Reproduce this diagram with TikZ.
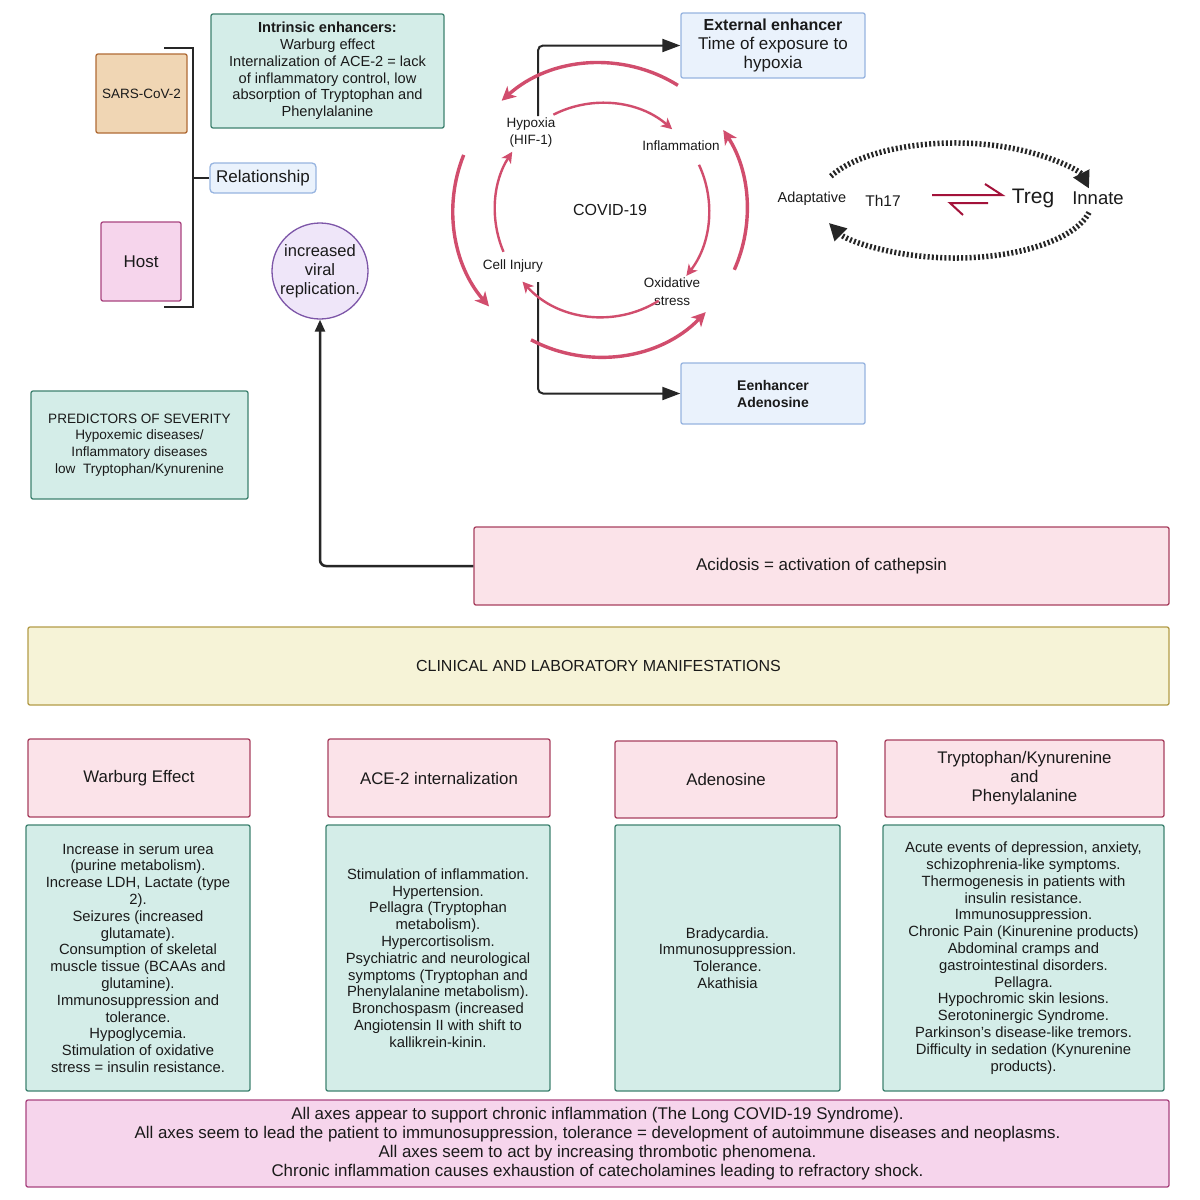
\documentclass[tikz,border=0pt]{standalone}
\usepackage{fontspec}
\setmainfont{Liberation Sans}
\usetikzlibrary{arrows.meta}
\newcommand\fsz[2]{\fontsize{#1}{#2}\selectfont}
\definecolor{tealF}{HTML}{D4EDE8}
\definecolor{tealD}{HTML}{3E8270}
\definecolor{pinkF}{HTML}{FBE3E9}
\definecolor{pinkD}{HTML}{A8405F}
\definecolor{blueF}{HTML}{EAF2FC}
\definecolor{blueD}{HTML}{97B4E0}
\definecolor{yelF}{HTML}{F6F3D7}
\definecolor{yelD}{HTML}{B39C48}
\definecolor{magF}{HTML}{F6D5EC}
\definecolor{magD}{HTML}{A9447F}
\definecolor{tanF}{HTML}{F0D6B4}
\definecolor{tanD}{HTML}{B06B35}
\definecolor{purF}{HTML}{EFE6F9}
\definecolor{purD}{HTML}{7D56A8}
\definecolor{crim}{HTML}{D14D6D}
\definecolor{eqred}{HTML}{A3123A}
\definecolor{txt}{HTML}{1A1A1A}
\tikzset{
  box/.style={draw, line width=1.3pt, rounded corners=2pt, align=center, inner sep=0pt, text=txt},
  tealbox/.style={box, fill=tealF, draw=tealD, font=\fsz{14.8}{16.8}},
  hdrbox/.style={box, fill=pinkF, draw=pinkD, font=\fsz{16.8}{19}},
  bluebox/.style={box, fill=blueF, draw=blueD},
  lbl/.style={align=center, inner sep=0pt, text=txt},
  cyin/.style={draw=crim, line width=2.4pt, -{Stealth[length=11pt,width=11pt,inset=3pt]}},
  cyout/.style={draw=crim, line width=3.4pt, -{Stealth[length=14pt,width=14pt,inset=4pt]}},
  blk/.style={draw=black!85, line width=2pt, rounded corners=5pt, -{Triangle[length=18pt,width=13pt]}},
  dotarc/.style={draw=black!85, line width=5.5pt, dash pattern=on 2pt off 2.2pt, -{Triangle[length=17pt,width=17pt]}},
}
\begin{document}
\begin{tikzpicture}[x=1pt,y=-1pt]
\useasboundingbox[fill=white] (0,0) rectangle (1200,1200);

% ---- top-left ----
\node[box, fill=tanF, draw=tanD, minimum width=91pt, minimum height=79pt, font=\fsz{13.5}{16}] (sars) at (141.5,93.5) {SARS-CoV-2};
\node[box, fill=magF, draw=magD, minimum width=80pt, minimum height=79pt, font=\fsz{17}{20}] (host) at (141,261.5) {Host};
\node[bluebox, rounded corners=4pt, minimum width=106pt, minimum height=30pt, font=\fsz{17}{20}] (rel) at (263,178) {Relationship};
\coordinate (brT) at (164,48);
\coordinate (brB) at (164,307);
\draw[line width=1.5pt, black!85] (brT) -- (193,48) -- (193,307) -- (brB);
\draw[line width=1.5pt, black!85] (193,178) -- (rel.west);

\node[tealbox, font=\fsz{14.6}{16.8}, minimum width=233pt, minimum height=114pt] (intr) at (327.5,71)
  {\textbf{Intrinsic enhancers:}\\Warburg effect\\Internalization of ACE-2 = lack\\of inflammatory control, low\\absorption of Tryptophan and\\Phenylalanine};

\node[circle, draw=purD, fill=purF, line width=1.3pt, minimum size=96pt, inner sep=0pt, align=center, text=txt, font=\fsz{16.5}{19}] (viral) at (320,271) {increased\\viral\\replication.};

\node[tealbox, font=\fsz{13.6}{16.8}, minimum width=217pt, minimum height=108pt] (pred) at (139.5,445)
  {PREDICTORS OF SEVERITY\\Hypoxemic diseases/\\Inflammatory diseases\\low\ \ Tryptophan/Kynurenine};

% ---- enhancers ----
\node[bluebox, minimum width=184pt, minimum height=65pt, font=\fsz{17}{19}] (ext) at (773,45.5)
  {{\fsz{16}{19}\textbf{External enhancer}}\\Time of exposure to\\hypoxia};
\node[bluebox, minimum width=184pt, minimum height=61pt, font=\fsz{14}{17}] (aden) at (773,393.5)
  {\textbf{Eenhancer}\\\textbf{Adenosine}};

% ---- COVID cycle ----
\coordinate (cin) at (602,210);
\coordinate (cout) at (600,210);
\node[lbl, font=\fsz{16}{19}] (covid) at (610,210) {COVID-19};
\node[lbl, font=\fsz{13.5}{17}] (hyp) at (531,133) {Hypoxia\\(HIF-1)};
\node[lbl, font=\fsz{13.5}{17}] (infl) at (681,146) {Inflammation};
\node[lbl, font=\fsz{13.5}{17}] (cell) at (513,266) {Cell Injury};
\node[lbl, font=\fsz{13.5}{18}] (ox) at (672,292) {Oxidative\\stress};

\coordinate (hypTop) at (538,116);
\coordinate (cellBot) at (538,282);
\draw[blk] (hypTop) |- (ext.west);
\draw[blk] (cellBot) |- (aden.west);

\draw[cyin] (cin) ++(-117:107) arc[start angle=-117, end angle=-49, radius=107];
\draw[cyin] (cin) ++(-25:107) arc[start angle=-25, end angle=38, radius=107];
\draw[cyin] (cin) ++(58:107) arc[start angle=58, end angle=138, radius=107];
\draw[cyin] (cin) ++(157:107) arc[start angle=157, end angle=213, radius=107];

\draw[cyout] (cout) ++(-58:147) arc[start angle=-58, end angle=-132, radius=147];
\draw[cyout] (cout) ++(202:147) arc[start angle=202, end angle=139, radius=147];
\draw[cyout] (cout) ++(118:147) arc[start angle=118, end angle=44, radius=147];
\draw[cyout] (cout) ++(24:147) arc[start angle=24, end angle=-33, radius=147];

% ---- Th17 / Treg ----
\coordinate (ell) at (955,200.5);
\node[lbl, font=\fsz{14.5}{17}] (adap) at (812,199) {Adaptative};
\node[lbl, font=\fsz{15.5}{18}] (th) at (883,201) {Th17};
\node[lbl, font=\fsz{21}{24}] (treg) at (1033,198) {Treg};
\node[lbl, font=\fsz{18.5}{22}] (inn) at (1098,198) {Innate};
\draw[dotarc] (ell) ++(-155:137 and 57.5) arc[start angle=-155, end angle=-12, x radius=137, y radius=57.5];
\draw[dotarc] (ell) ++(12:137 and 57.5) arc[start angle=12, end angle=157, x radius=137, y radius=57.5];
\draw[eqred, line width=2pt] (932,195) -- (1002,195) -- (985,184);
\draw[eqred, line width=2pt] (988,203) -- (950,203) -- (963,215);

% ---- acidosis ----
\node[box, fill=pinkF, draw=pinkD, minimum width=695pt, minimum height=78pt, font=\fsz{17}{19}] (acid) at (821.5,566) {Acidosis = activation of cathepsin};
\draw[draw=black!85, line width=2.5pt, rounded corners=6pt, -{Triangle[length=12pt,width=10pt]}] (acid.west) -| (viral.south);

\node[box, fill=yelF, draw=yelD, minimum width=1141pt, minimum height=78pt, font=\fsz{16}{18}] (clin) at (598.5,666) {CLINICAL AND LABORATORY MANIFESTATIONS};

% ---- headers ----
\node[hdrbox, minimum width=222pt, minimum height=78pt] (h1) at (139,778) {Warburg Effect};
\node[hdrbox, minimum width=222pt, minimum height=78pt] (h2) at (439,778) {ACE-2 internalization};
\node[hdrbox, minimum width=222pt, minimum height=77pt] (h3) at (726,779.5) {Adenosine};
\node[hdrbox, minimum width=279pt, minimum height=77pt] (h4) at (1024.5,778.5) {Tryptophan/Kynurenine\\and\\Phenylalanine};

% ---- bodies ----
\node[tealbox, minimum width=224pt, minimum height=266pt] (b1) at (138,958)
  {Increase in serum urea\\(purine metabolism).\\Increase LDH, Lactate (type\\2).\\Seizures (increased\\glutamate).\\Consumption of skeletal\\muscle tissue (BCAAs and\\glutamine).\\Immunosuppression and\\tolerance.\\Hypoglycemia.\\Stimulation of oxidative\\stress = insulin resistance.};
\node[tealbox, minimum width=224pt, minimum height=266pt] (b2) at (438,958)
  {Stimulation of inflammation.\\Hypertension.\\Pellagra (Tryptophan\\metabolism).\\Hypercortisolism.\\Psychiatric and neurological\\symptoms (Tryptophan and\\Phenylalanine metabolism).\\Bronchospasm (increased\\Angiotensin II with shift to\\kallikrein-kinin.};
\node[tealbox, minimum width=225pt, minimum height=266pt] (b3) at (727.5,958)
  {Bradycardia.\\Immunosuppression.\\Tolerance.\\Akathisia};
\node[tealbox, minimum width=281pt, minimum height=266pt] (b4) at (1023.5,958)
  {Acute events of depression, anxiety,\\schizophrenia-like symptoms.\\Thermogenesis in patients with\\insulin resistance.\\Immunosuppression.\\Chronic Pain (Kinurenine products)\\Abdominal cramps and\\gastrointestinal disorders.\\Pellagra.\\Hypochromic skin lesions.\\Serotoninergic Syndrome.\\Parkinson's disease-like tremors.\\Difficulty in sedation (Kynurenine\\products).};

% ---- bottom ----
\node[box, fill=magF, draw=magD, minimum width=1143pt, minimum height=87pt, font=\fsz{16.9}{19}] (summ) at (597.5,1143.5)
  {All axes appear to support chronic inflammation (The Long COVID-19 Syndrome).\\All axes seem to lead the patient to immunosuppression, tolerance = development of autoimmune diseases and neoplasms.\\All axes seem to act by increasing thrombotic phenomena.\\Chronic inflammation causes exhaustion of catecholamines leading to refractory shock.};
\end{tikzpicture}
\end{document}
